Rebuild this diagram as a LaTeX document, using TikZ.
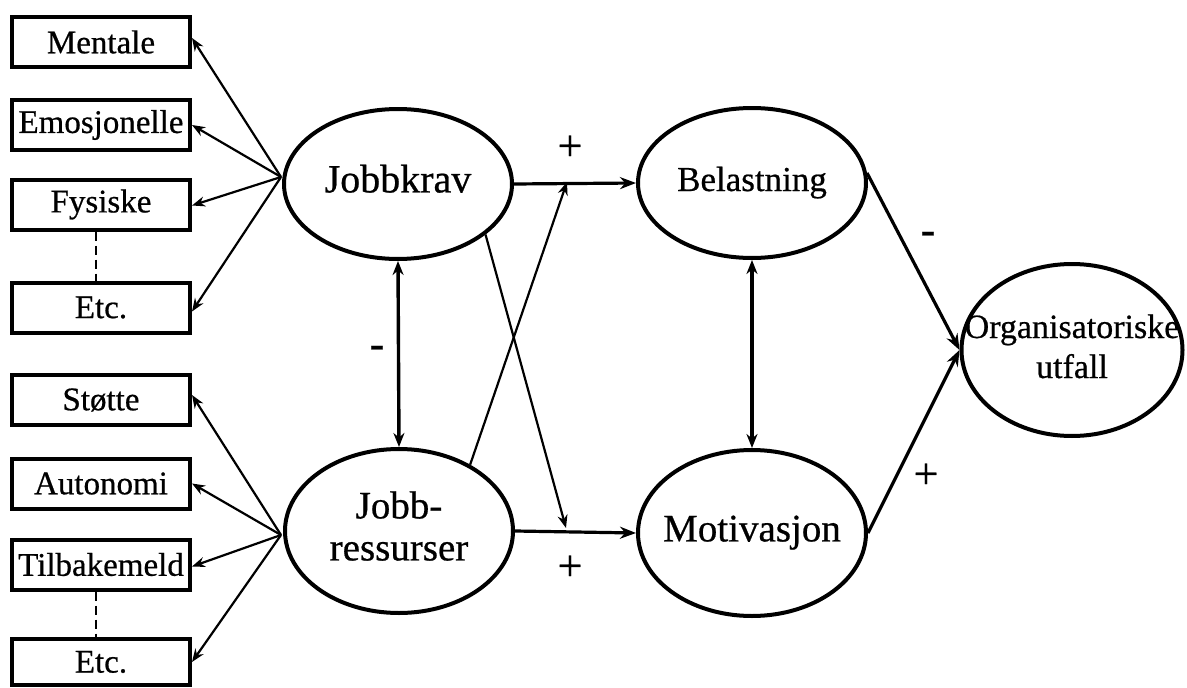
\documentclass[tikz,border=0pt]{standalone}
\usepackage{fontspec}
\setmainfont{Liberation Serif}[FakeBold=0.6]
\usetikzlibrary{shapes.geometric,arrows.meta}
\newcommand{\ctext}[1]{\makebox[0pt][c]{\begin{tabular}{@{}c@{}}#1\end{tabular}}}
\begin{document}
\begin{tikzpicture}[x=1pt,y=-1pt,
  box/.style={draw,line width=4pt,minimum width=178pt,minimum height=50pt,inner sep=0pt,
    font=\fontsize{33}{38}\selectfont},
  lat/.style={draw,ellipse,line width=4pt,inner sep=0pt},
  thinarr/.style={line width=2.2pt,-{Stealth[length=13pt,width=10pt]}},
  midarr/.style={line width=3.2pt,-{Stealth[length=16pt,width=12pt]}},
  dblarr/.style={line width=3.4pt,{Stealth[length=14pt,width=11pt]}-{Stealth[length=14pt,width=11pt]}},
  dashline/.style={line width=2.6pt,dash pattern=on 9pt off 5pt},
  sign/.style={font=\fontsize{44}{44}\selectfont,inner sep=0pt}
]
\useasboundingbox (0,0) rectangle (1187,688);

% left boxes
\node[box] (m)  at (101,42)  {Mentale};
\node[box] (em) at (101,125) {Emosjonelle};
\node[box] (fy) at (101,204.5) {Fysiske};
\node[box] (e1) at (101,307.5) {Etc.};
\node[box] (st) at (101,400) {Støtte};
\node[box] (au) at (101,483.5) {Autonomi};
\node[box] (ti) at (101,564.5) {Tilbakemeld};
\node[box,minimum height=46pt] (e2) at (101,662) {Etc.};

\draw[dashline] ([xshift=-5pt]fy.south) -- ([xshift=-5pt]e1.north);
\draw[dashline] ([xshift=-5pt]ti.south) -- ([xshift=-5pt]e2.north);

% latent variables
\node[lat,minimum width=228pt,minimum height=150pt,font=\fontsize{40}{42}\selectfont] (jk) at (398,184) {\ctext{Jobbkrav}};
\node[lat,minimum width=228pt,minimum height=164pt,font=\fontsize{39}{42}\selectfont] (jr) at (399,531) {\ctext{Jobb-\\ressurser}};
\node[lat,minimum width=228pt,minimum height=150pt,font=\fontsize{35}{40}\selectfont] (bel) at (752,183) {\ctext{Belastning}};
\node[lat,minimum width=228pt,minimum height=166pt,font=\fontsize{39}{42}\selectfont] (mot) at (752,533) {\ctext{Motivasjon}};
\node[lat,minimum width=221pt,minimum height=172pt,font=\fontsize{34}{40}\selectfont] (org) at (1072,350) {\ctext{Organisatoriske\\utfall}};

% sources of the indicator arrows
\coordinate (jksrc) at (281,177);
\coordinate (jrsrc) at (281,535);
\draw[thinarr] (jksrc) -- ([yshift=4pt]m.east);
\draw[thinarr] (jksrc) -- (em.east);
\draw[thinarr] (jksrc) -- ([yshift=-1pt]fy.east);
\draw[thinarr] (jksrc) -- ([yshift=-4pt]e1.east);
\draw[thinarr] (jrsrc) -- ([yshift=5pt]st.east);
\draw[thinarr] (jrsrc) -- (au.east);
\draw[thinarr] (jrsrc) -- ([yshift=-2pt]ti.east);
\draw[thinarr] (jrsrc) -- (e2.east);

% main paths
\draw[midarr] (jk.east) -- (bel.west);
\draw[midarr] (jr.east) -- (mot.west);
\coordinate (x1) at (566,528);
\coordinate (x2) at (567,182);
\draw[thinarr] (jk.-30) -- (x1);
\draw[thinarr] (jr.43) -- (x2);
\draw[dblarr] (jk.south) -- (jr.north);
\draw[dblarr] (bel.south) -- (mot.north);
\draw[midarr] (bel.5) -- (org.west);
\draw[midarr] (mot.east) -- (org.west);

% signs
\node[sign] (p1) at (570,148) {+};
\node[sign] (p2) at (570,568) {+};
\node[sign] (n1) at (377,352) {-};
\node[sign] (n2) at (928,238) {-};
\node[sign] (p3) at (926,476) {+};
\end{tikzpicture}
\end{document}
